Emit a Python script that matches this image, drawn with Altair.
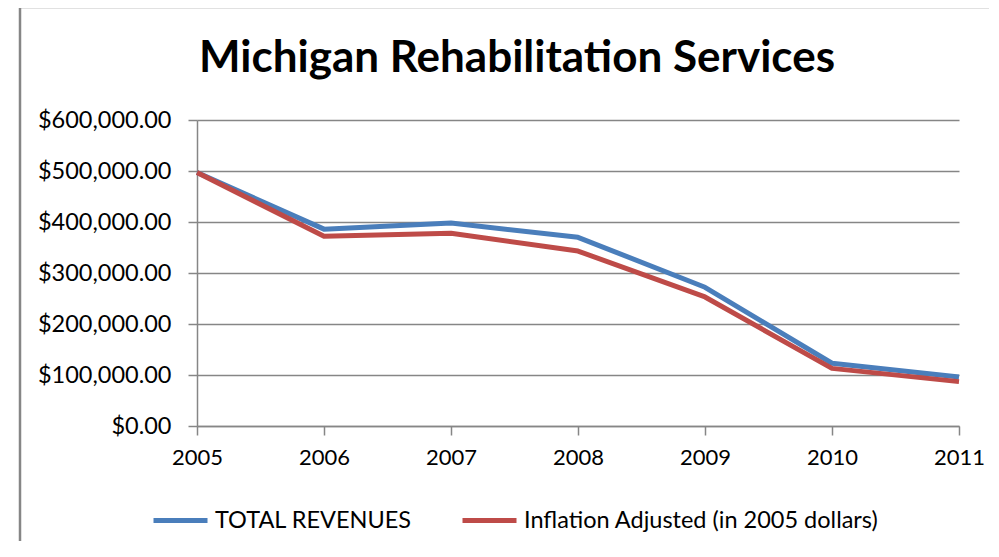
import altair as alt
import pandas as pd

years = [2005, 2006, 2007, 2008, 2009, 2010, 2011]
total_revenues = [497000, 386000, 398000, 370000, 272000, 123000, 96000]
inflation_adjusted = [497000, 372000, 378000, 343000, 253000, 113000, 87000]
series_names = ["TOTAL REVENUES", "Inflation Adjusted (in 2005 dollars)"]
series_colors = ["#4a7ebb", "#be4b48"]
y_ticks = [0, 100000, 200000, 300000, 400000, 500000, 600000]
title_text = "Michigan Rehabilitation Services"

rows = []
for i, yr in enumerate(years):
    rows.append({"year": yr, "value": total_revenues[i], "series": series_names[0]})
    rows.append({"year": yr, "value": inflation_adjusted[i], "series": series_names[1]})
df = pd.DataFrame(rows)

FONT = "Lato"
GRAY = "#868686"

lines = alt.Chart(df).mark_line(strokeWidth=5, strokeJoin="round").encode(
    x=alt.X("year:Q", scale=alt.Scale(domain=[2005, 2011], nice=False, zero=False),
            axis=alt.Axis(values=years, format="d", title=None, grid=False,
                          tickSize=9, labelPadding=12, labelFontSize=22,
                          labelFont=FONT, labelColor="#000000",
                          domainColor=GRAY, tickColor=GRAY, domainWidth=1.5, tickWidth=1.5,
                          labelFlush=False)),
    y=alt.Y("value:Q", scale=alt.Scale(domain=[0, 600000], nice=False),
            axis=alt.Axis(values=y_ticks, format="$,.2f", title=None, grid=True,
                          gridColor=GRAY, gridWidth=1.5, tickSize=9, labelPadding=17,
                          labelFontSize=23.5, labelFont=FONT, labelColor="#000000",
                          domainColor=GRAY, tickColor=GRAY, domainWidth=1.5, tickWidth=1.5)),
    color=alt.Color("series:N", sort=series_names,
                    scale=alt.Scale(domain=series_names, range=series_colors),
                    legend=alt.Legend(title=None, orient="none", direction="horizontal",
                                      legendX=-46, legendY=371,
                                      symbolType="stroke", symbolSize=2916,
                                      symbolStrokeWidth=5, labelFontSize=23.5,
                                      labelFont=FONT, labelColor="#000000",
                                      labelOffset=5, columnPadding=40, labelLimit=600)),
)

one_row = pd.DataFrame({"t": [title_text]})
frame = alt.Chart(one_row).mark_rect(fill=None, stroke=GRAY, strokeWidth=2.5).encode(
    x=alt.value(-177), x2=alt.value(830), y=alt.value(-113), y2=alt.value(436)
)
title = alt.Chart(one_row).mark_text(font=FONT, fontSize=44, fontWeight="bold",
                                     color="#000000", align="center",
                                     baseline="alphabetic").encode(
    text="t:N", x=alt.value(320), y=alt.value(-48)
)

chart = alt.layer(frame, title, lines).properties(
    width=762, height=306,
    autosize=alt.AutoSizeParams(type="none"),
    padding={"left": 189, "top": 112, "right": 30, "bottom": 115},
).configure_view(stroke=None)

chart.save("out.html", embed_options={"renderer": "svg", "actions": False})
